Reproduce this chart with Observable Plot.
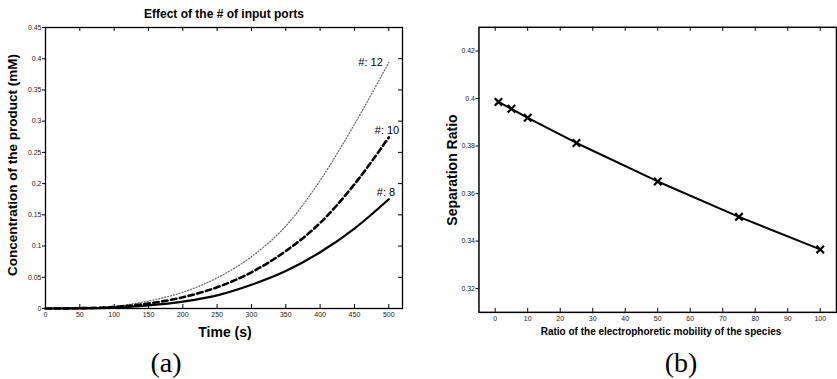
<!DOCTYPE html>
<html>
<head>
<meta charset="utf-8">
<script src="https://cdn.jsdelivr.net/npm/d3@7"></script>
<script src="https://cdn.jsdelivr.net/npm/@observablehq/plot@0.6"></script>
<style>
  html, body { margin: 0; padding: 0; background: #fff; }
  #wrap { position: relative; width: 837px; height: 379px; overflow: hidden; background: #fff; }
  .panel { position: absolute; top: 0; }
  .lbl { position: absolute; white-space: nowrap; color: #000; transform: translate(-50%, -50%);
         font-family: "Liberation Sans", Arial, Helvetica, sans-serif; font-weight: bold; line-height: 1; }
  .rot { transform: translate(-50%, -50%) rotate(-90deg); }
  .cap { position: absolute; white-space: nowrap; transform: translate(-50%, -50%);
         font-family: "Liberation Serif", "DejaVu Serif", serif; font-size: 28px; line-height: 1; color: #000; }
</style>
</head>
<body>
<div id="wrap">
  <div id="pa" class="panel" style="left:0px"></div>
  <div id="pb" class="panel" style="left:400px"></div>
  <div class="lbl" style="left:224px; top:14px; font-size:12px;">Effect of the # of input ports</div>
  <div class="lbl rot" style="left:13px; top:165px; font-size:13.5px;">Concentration of the product (mM)</div>
  <div class="lbl" style="left:225px; top:332px; font-size:14px;">Time (s)</div>
  <div class="cap" style="left:166px; top:363px;">(a)</div>
  <div class="lbl rot" style="left:452px; top:170px; font-size:14px;">Separation Ratio</div>
  <div class="lbl" style="left:661px; top:332px; font-size:10px;">Ratio of the electrophoretic mobility of the species</div>
  <div class="cap" style="left:681px; top:363px;">(b)</div>
</div>
<script>
// ---------- Panel (a) data ----------
const timeS   = [0, 50, 100, 150, 200, 250, 300, 350, 400, 450, 500];
const ports8  = [0, 0.0003, 0.0015, 0.005, 0.011, 0.021, 0.038, 0.060, 0.090, 0.128, 0.175];
const ports10 = [0, 0.0005, 0.0025, 0.008, 0.018, 0.034, 0.058, 0.092, 0.137, 0.199, 0.274];
const ports12 = [0, 0.0007, 0.0035, 0.012, 0.026, 0.049, 0.083, 0.132, 0.205, 0.295, 0.394];
const seriesNames = ["#: 8", "#: 10", "#: 12"];
const xTicksA = [0, 50, 100, 150, 200, 250, 300, 350, 400, 450, 500];
const yTicksA = [0, 0.05, 0.1, 0.15, 0.2, 0.25, 0.3, 0.35, 0.4, 0.45];

// ---------- Panel (b) data ----------
const mobilityRatio   = [1, 5, 10, 25, 50, 75, 100];
const separationRatio = [0.3986, 0.3957, 0.3919, 0.3813, 0.3651, 0.3502, 0.3365];
const xTicksB = [0, 10, 20, 30, 40, 50, 60, 70, 80, 90, 100];
const yTicksB = [0.32, 0.34, 0.36, 0.38, 0.4, 0.42];

const rows = (vals) => timeS.map((t, i) => ({t, v: vals[i]}));
const s8 = rows(ports8), s10 = rows(ports10), s12 = rows(ports12);
const last = (arr, name) => [{t: timeS[timeS.length - 1], v: arr[arr.length - 1], name}];

const font = '"Liberation Sans", Arial, Helvetica, sans-serif';
const tick = 4;

// Panel (a)
{
  const W = 420, H = 379, mL = 45, mR = 18, mT = 27, mB = 71;
  const pw = W - mL - mR, ph = H - mT - mB;
  const chart = Plot.plot({
    width: W, height: H, marginLeft: mL, marginRight: mR, marginTop: mT, marginBottom: mB,
    style: {fontFamily: font, fontSize: "7px", color: "#222", background: "transparent", overflow: "visible"},
    x: {domain: [0, 520]},
    y: {domain: [0, 0.45]},
    marks: [
      Plot.axisX(xTicksA, {tickSize: 0, tickPadding: 4, label: null, fontSize: 7, tickFormat: d => String(d)}),
      Plot.axisY(yTicksA, {tickSize: 3, tickPadding: 1, label: null, fontSize: 7, tickFormat: d => String(d), stroke: "#000"}),
      Plot.ruleX(xTicksA, {insetTop: ph - tick, stroke: "#000"}),
      Plot.ruleX(xTicksA, {insetBottom: ph - tick, stroke: "#000"}),
      Plot.ruleY(yTicksA, {insetLeft: pw - tick, stroke: "#000"}),
      Plot.line(s12, {x: "t", y: "v", curve: "monotone-x", stroke: "#666", strokeWidth: 1.2, strokeDasharray: "1.1,1.9"}),
      Plot.line(s10, {x: "t", y: "v", curve: "monotone-x", stroke: "#000", strokeWidth: 2.6, strokeDasharray: "5.5,3.5"}),
      Plot.line(s8,  {x: "t", y: "v", curve: "monotone-x", stroke: "#000", strokeWidth: 2.2}),
      Plot.text(last(ports12, seriesNames[2]), {x: "t", y: "v", text: "name", textAnchor: "end", dx: -6, dy: 0, fontSize: 11, fill: "#000"}),
      Plot.text(last(ports10, seriesNames[1]), {x: "t", y: "v", text: "name", textAnchor: "start", dx: -14, dy: -7, fontSize: 11, fill: "#000"}),
      Plot.text(last(ports8,  seriesNames[0]), {x: "t", y: "v", text: "name", textAnchor: "start", dx: -12, dy: -7, fontSize: 11, fill: "#000"}),
      Plot.frame({stroke: "#000", strokeWidth: 1.3})
    ]
  });
  document.getElementById("pa").append(chart);
}

// Panel (b)
{
  const W = 440, H = 379, mL = 79, mR = 1, mT = 27, mB = 65;
  const pw = W - mL - mR, ph = H - mT - mB;
  const pts = mobilityRatio.map((r, i) => ({r, s: separationRatio[i]}));
  const chart = Plot.plot({
    width: W, height: H, marginLeft: mL, marginRight: mR, marginTop: mT, marginBottom: mB,
    style: {fontFamily: font, fontSize: "7px", color: "#222", background: "transparent", overflow: "visible"},
    x: {domain: [-5, 105]},
    y: {domain: [0.31, 0.43]},
    marks: [
      Plot.axisX(xTicksB, {tickSize: 0, tickPadding: 4, label: null, fontSize: 7, tickFormat: d => String(d)}),
      Plot.axisY(yTicksB, {tickSize: 3, tickPadding: 1, label: null, fontSize: 7, tickFormat: d => String(d), stroke: "#000"}),
      Plot.ruleX(xTicksB, {insetTop: ph - tick, stroke: "#000"}),
      Plot.ruleX(xTicksB, {insetBottom: ph - tick, stroke: "#000"}),
      Plot.line(pts, {x: "r", y: "s", stroke: "#000", strokeWidth: 2}),
      Plot.dot(pts, {x: "r", y: "s", symbol: "times", r: 3.5, stroke: "#000", strokeWidth: 2.2}),
      Plot.frame({stroke: "#000", strokeWidth: 1.5})
    ]
  });
  document.getElementById("pb").append(chart);
}
</script>
</body>
</html>
